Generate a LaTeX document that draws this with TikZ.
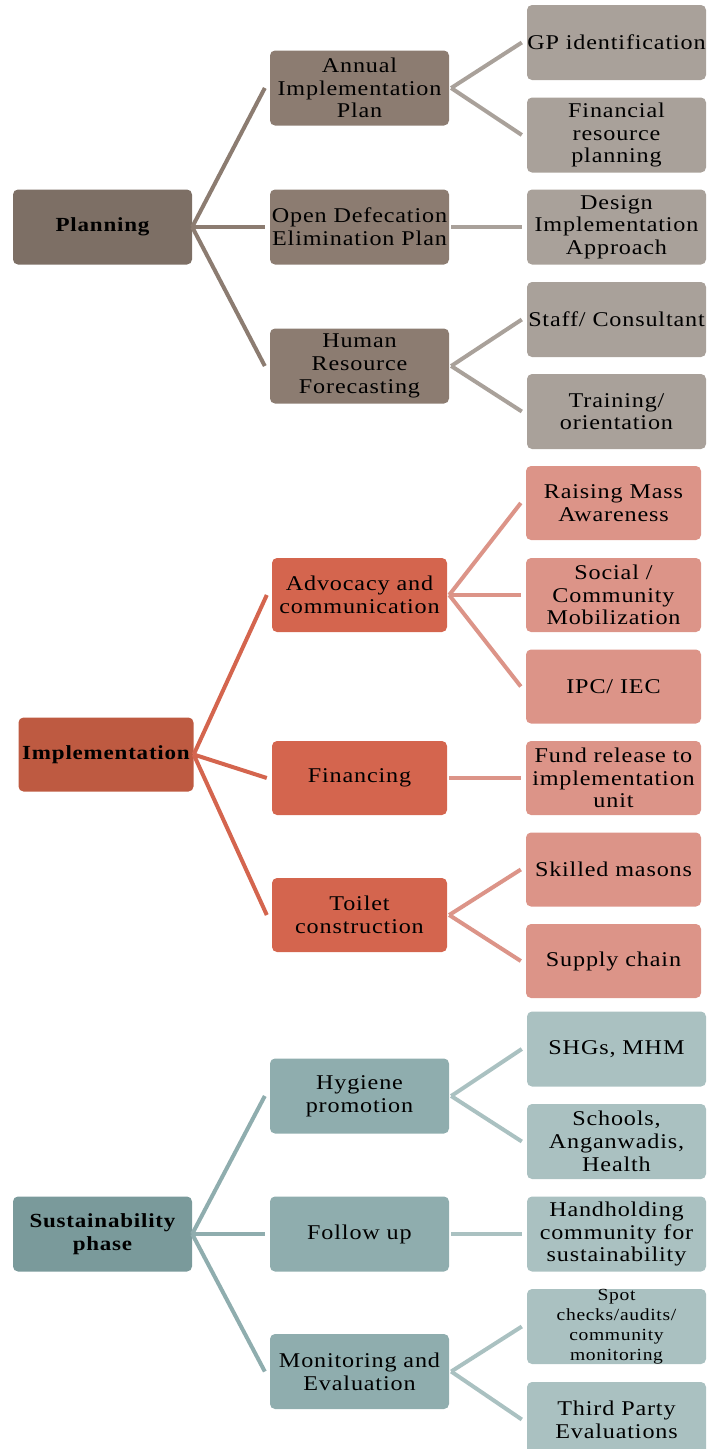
\documentclass[tikz,border=0pt]{standalone}
\usepackage{fontspec}
\setmainfont{Liberation Serif}[FakeStretch=1.15, LetterSpace=4]
\usepackage{tikz}

\definecolor{planroot}{HTML}{7D6F65}
\definecolor{planmid}{HTML}{8C7C71}
\definecolor{planleaf}{HTML}{A9A19A}
\definecolor{implroot}{HTML}{BE5A41}
\definecolor{implmid}{HTML}{D4654E}
\definecolor{implleaf}{HTML}{DC9488}
\definecolor{sustroot}{HTML}{7A9A9B}
\definecolor{sustmid}{HTML}{8FADAE}
\definecolor{sustleaf}{HTML}{AAC1C1}

\begin{document}
\begin{tikzpicture}[x=1pt,y=-1pt,
    box/.style={rounded corners=5pt, minimum width=179pt, minimum height=75pt,
        inner sep=0pt, align=center, font=\fontsize{21}{22.7}\selectfont},
    rootbox/.style={box, font=\fontsize{20}{23}\selectfont\bfseries},
    narrow/.style={minimum width=175pt, minimum height=74pt},
    link/.style={line width=4pt}]
    \useasboundingbox (0,0) rectangle (707,1449);

    % planning
    \node[rootbox, fill=planroot] (plan) at (102.5,227) {Planning};
    \node[box, fill=planmid] (aip) at (359.5,88) {Annual\\Implementation\\Plan};
    \node[box, fill=planmid] (odep) at (359.5,227) {Open Defecation\\Elimination Plan};
    \node[box, fill=planmid] (hrf) at (359.5,366) {Human\\Resource\\Forecasting};
    \node[box, fill=planleaf] (gpid) at (616.5,42.5) {GP identification};
    \node[box, fill=planleaf] (finres) at (616.5,135) {Financial\\resource\\planning};
    \node[box, fill=planleaf] (design) at (616.5,227) {Design\\Implementation\\Approach};
    \node[box, fill=planleaf] (staff) at (616.5,319.5) {Staff/ Consultant};
    \node[box, fill=planleaf] (train) at (616.5,411.5) {Training/\\orientation};
    \draw[link, planmid] (plan.east) -- ([xshift=-5pt]aip.west);
    \draw[link, planmid] (plan.east) -- ([xshift=-5pt]odep.west);
    \draw[link, planmid] (plan.east) -- ([xshift=-5pt]hrf.west);
    \draw[link, planleaf] ([xshift=2pt]aip.east) -- ([xshift=-5pt]gpid.west);
    \draw[link, planleaf] ([xshift=2pt]aip.east) -- ([xshift=-5pt]finres.west);
    \draw[link, planleaf] ([xshift=2pt]odep.east) -- ([xshift=-5pt]design.west);
    \draw[link, planleaf] ([xshift=2pt]hrf.east) -- ([xshift=-5pt]staff.west);
    \draw[link, planleaf] ([xshift=2pt]hrf.east) -- ([xshift=-5pt]train.west);

    % implementation
    \node[rootbox, narrow, fill=implroot] (impl) at (106,754.5) {Implementation};
    \node[box, narrow, fill=implmid] (advoc) at (359.5,595) {Advocacy and\\communication};
    \node[box, narrow, fill=implmid] (fin) at (359.5,778) {Financing};
    \node[box, narrow, fill=implmid] (toilet) at (359.5,915) {Toilet\\construction};
    \node[box, narrow, fill=implleaf] (mass) at (613.5,503) {Raising Mass\\Awareness};
    \node[box, narrow, fill=implleaf] (mobil) at (613.5,595) {Social /\\Community\\Mobilization};
    \node[box, narrow, fill=implleaf] (ipc) at (613.5,686.5) {IPC/ IEC};
    \node[box, narrow, fill=implleaf] (fund) at (613.5,778) {Fund release to\\implementation\\unit};
    \node[box, narrow, fill=implleaf] (masons) at (613.5,869.5) {Skilled masons};
    \node[box, narrow, fill=implleaf] (supply) at (613.5,961) {Supply chain};
    \draw[link, implmid] (impl.east) -- ([xshift=-5pt]advoc.west);
    \draw[link, implmid] (impl.east) -- ([xshift=-5pt]fin.west);
    \draw[link, implmid] (impl.east) -- ([xshift=-5pt]toilet.west);
    \draw[link, implleaf] ([xshift=2pt]advoc.east) -- ([xshift=-5pt]mass.west);
    \draw[link, implleaf] ([xshift=2pt]advoc.east) -- ([xshift=-5pt]mobil.west);
    \draw[link, implleaf] ([xshift=2pt]advoc.east) -- ([xshift=-5pt]ipc.west);
    \draw[link, implleaf] ([xshift=2pt]fin.east) -- ([xshift=-5pt]fund.west);
    \draw[link, implleaf] ([xshift=2pt]toilet.east) -- ([xshift=-5pt]masons.west);
    \draw[link, implleaf] ([xshift=2pt]toilet.east) -- ([xshift=-5pt]supply.west);

    % sustainability
    \node[rootbox, fill=sustroot] (sust) at (102.5,1234) {Sustainability\\phase};
    \node[box, fill=sustmid] (hyg) at (359.5,1096) {Hygiene\\promotion};
    \node[box, fill=sustmid] (follow) at (359.5,1234) {Follow up};
    \node[box, fill=sustmid] (monit) at (359.5,1371.5) {Monitoring and\\Evaluation};
    \node[box, fill=sustleaf] (shg) at (616.5,1049) {SHGs, MHM};
    \node[box, fill=sustleaf] (school) at (616.5,1141.5) {Schools,\\Anganwadis,\\Health};
    \node[box, fill=sustleaf] (hand) at (616.5,1234) {Handholding\\community for\\sustainability};
    \node[box, fill=sustleaf, font=\fontsize{17}{20}\selectfont] (spot) at (616.5,1326.5)
        {Spot\\checks/audits/\\community\\monitoring};
    \node[box, fill=sustleaf] (third) at (616.5,1419.5) {Third Party\\Evaluations};
    \draw[link, sustmid] (sust.east) -- ([xshift=-5pt]hyg.west);
    \draw[link, sustmid] (sust.east) -- ([xshift=-5pt]follow.west);
    \draw[link, sustmid] (sust.east) -- ([xshift=-5pt]monit.west);
    \draw[link, sustleaf] ([xshift=2pt]hyg.east) -- ([xshift=-5pt]shg.west);
    \draw[link, sustleaf] ([xshift=2pt]hyg.east) -- ([xshift=-5pt]school.west);
    \draw[link, sustleaf] ([xshift=2pt]follow.east) -- ([xshift=-5pt]hand.west);
    \draw[link, sustleaf] ([xshift=2pt]monit.east) -- ([xshift=-5pt]spot.west);
    \draw[link, sustleaf] ([xshift=2pt]monit.east) -- ([xshift=-5pt]third.west);
\end{tikzpicture}
\end{document}
